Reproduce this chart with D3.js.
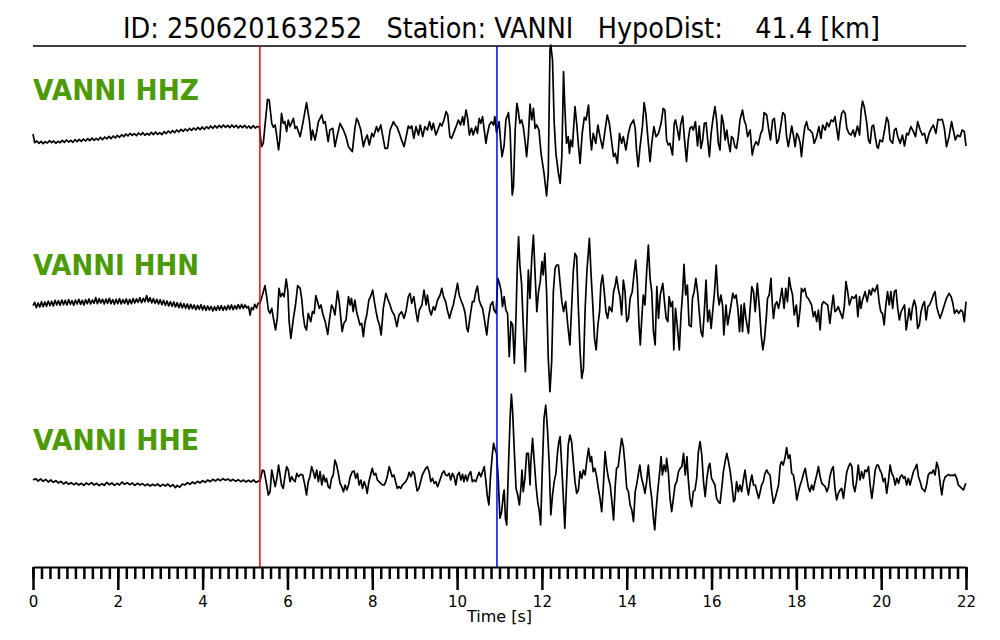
<!DOCTYPE html>
<html><head><meta charset="utf-8">
<script src="https://cdn.jsdelivr.net/npm/d3@7"></script>
<style>html,body{margin:0;padding:0;background:#fff;}svg text{font-family:"DejaVu Sans",sans-serif;}</style>
</head><body>
<svg id="chart" width="1000" height="640"></svg>
<script>
// ---------- data ----------
const eventId = "250620163252";
const station = "VANNI";
const hypoDistKm = 41.4;
const channels = ["HHZ", "HHN", "HHE"];
const pickTimes = [5.35, 10.94];          // P, S
const pickColors = ["#ff0000", "#0000ff"];
const majorTicks = [0, 2, 4, 6, 8, 10, 12, 14, 16, 18, 20, 22];
const minorStep = 0.2;
const timeRange = [0, 22];

// amplitudes in counts (relative), time in s
const hhz = [
[0.00,-12],[0.04,-38],[0.09,-33],[0.14,-40],[0.19,-34],[0.24,-41],[0.29,-35],[0.34,-39],[0.39,-32],[0.44,-38],[0.49,-33],[0.54,-40],[0.59,-34],[0.64,-38],[0.69,-31],[0.74,-37],[0.79,-30],[0.84,-36],[0.89,-31],[0.94,-37],[0.99,-29],[1.04,-35],[1.09,-28],[1.14,-34],[1.19,-27],[1.24,-33],[1.29,-26],[1.34,-32],[1.39,-24],[1.44,-31],[1.49,-25],[1.54,-30],[1.59,-22],[1.64,-29],[1.69,-21],[1.74,-27],[1.79,-19],[1.84,-26],[1.89,-18],[1.94,-24],[1.99,-16],[2.04,-22],[2.09,-14],[2.14,-20],[2.19,-12],[2.24,-18],[2.29,-10],[2.34,-16],[2.39,-11],[2.44,-17],[2.49,-9],[2.54,-15],[2.59,-8],[2.64,-16],[2.69,-10],[2.74,-15],[2.79,-7],[2.84,-14],[2.89,-6],[2.94,-13],[2.99,-8],[3.04,-14],[3.09,-5],[3.14,-11],[3.19,-3],[3.24,-9],[3.29,-2],[3.34,-8],[3.39,0],[3.44,-6],[3.49,2],[3.54,-4],[3.59,3],[3.64,-3],[3.69,5],[3.74,-1],[3.79,6],[3.84,0],[3.89,8],[3.94,1],[3.99,9],[4.04,2],[4.09,10],[4.14,4],[4.19,12],[4.24,5],[4.29,13],[4.34,6],[4.39,14],[4.44,7],[4.49,15],[4.54,8],[4.59,14],[4.64,7],[4.69,15],[4.74,8],[4.79,14],[4.84,6],[4.89,13],[4.94,7],[4.99,14],[5.04,6],[5.09,12],[5.14,5],[5.19,13],[5.24,6],[5.29,11],[5.34,8],
[5.39,-50],[5.43,-40],[5.53,92],[5.57,90],[5.63,20],[5.67,8],[5.71,15],[5.75,-20],[5.79,-60],[5.82,-30],[5.86,50],[5.90,20],[5.94,25],[5.98,-5],[6.02,30],[6.06,10],[6.14,35],[6.18,5],[6.22,10],[6.30,-20],[6.37,25],[6.45,82],[6.52,25],[6.56,-30],[6.59,0],[6.65,-30],[6.69,-5],[6.73,25],[6.81,45],[6.85,20],[6.89,25],[6.96,-35],[7.00,0],[7.07,5],[7.12,-50],[7.16,-25],[7.24,20],[7.32,0],[7.38,-20],[7.44,-50],
[7.53,-65],[7.59,5],[7.63,35],[7.67,25],[7.73,0],[7.79,-50],[7.83,-30],[7.88,-15],[7.93,-45],[7.99,-10],[8.03,-20],[8.10,10],[8.14,-5],[8.20,15],[8.25,-20],[8.30,-55],[8.36,-55],[8.42,0],[8.50,25],[8.54,15],[8.58,10],[8.64,-10],[8.69,-30],[8.75,-50],[8.80,-20],[8.85,12],[8.89,5],[8.93,12],[8.98,-25],[9.03,10],[9.09,-15],[9.13,15],[9.19,-20],[9.24,10],[9.30,0],[9.35,25],[9.40,0],[9.44,20],[9.50,-15],[9.56,5],[9.60,20],[9.64,12],[9.69,30],[9.74,55],[9.78,45],[9.83,-20],[9.87,-25],[9.93,-5],[9.99,15],[10.03,30],[10.08,15],[10.13,40],[10.16,15],[10.21,60],[10.25,35],[10.29,-15],[10.34,5],[10.38,-15],[10.44,10],[10.48,-10],[10.52,35],[10.56,20],[10.60,40],[10.64,0],[10.68,-40],[10.71,-15],[10.76,15],[10.81,25],[10.86,15],[10.89,40],[10.93,-8],[10.99,25],[11.03,-40],[11.06,-80],[11.11,-45],[11.15,30],[11.21,52],[11.25,0],[11.30,-195],[11.33,-170],[11.37,0],[11.41,80],[11.44,60],[11.48,20],[11.52,30],[11.56,10],[11.60,-30],[11.64,-80],[11.68,-20],[11.72,78],[11.76,30],[11.80,65],[11.84,5],[11.88,15],[11.93,0],[11.98,-70],[12.05,-130],[12.11,-198],[12.15,-130],[12.19,240],[12.21,255],[12.25,210],[12.29,20],[12.33,-70],[12.39,-130],[12.43,-160],[12.47,-80],[12.51,175],[12.54,70],[12.58,-40],[12.62,-20],[12.65,-70],[12.68,-30],[12.72,-50],[12.78,70],[12.82,20],[12.86,-45],[12.90,-100],[12.95,-10],[13.00,38],[13.04,30],[13.10,75],[13.14,-20],[13.17,-60],[13.21,-10],[13.27,-40],[13.32,15],[13.37,-20],[13.43,-55],[13.49,0],[13.54,45],[13.59,20],[13.63,-20],[13.69,-80],[13.73,-70],[13.78,-100],[13.83,-10],[13.88,-40],[13.92,-20],[13.98,-60],[14.04,-10],[14.09,15],[14.16,30],[14.20,5],[14.23,-60],[14.27,-110],[14.31,-55],[14.37,10],[14.41,82],[14.45,50],[14.51,-40],[14.55,-95],
[14.59,-40],[14.64,10],[14.69,-20],[14.75,-10],[14.81,20],[14.86,65],[14.90,60],[14.94,-30],[14.98,-45],[15.02,-40],[15.08,-75],[15.12,20],[15.15,30],[15.19,5],[15.24,-30],[15.27,15],[15.32,42],[15.36,-25],[15.41,-95],[15.45,-30],[15.49,5],[15.53,10],[15.57,0],[15.62,25],[15.67,-48],[15.71,12],[15.75,-55],[15.79,-30],[15.83,20],[15.87,22],[15.91,-30],[15.95,-80],[15.99,-10],[16.03,30],[16.08,70],[16.12,30],[16.16,-40],[16.20,-60],[16.24,45],[16.28,20],[16.32,-30],[16.36,0],[16.40,-40],[16.44,-65],[16.47,-20],[16.51,-25],[16.55,-50],[16.59,-55],[16.63,-20],[16.67,30],[16.73,60],[16.77,30],[16.81,15],[16.85,-20],[16.91,0],[16.96,-75],[17.00,-50],[17.05,-35],[17.10,-45],[17.16,-10],[17.20,0],[17.24,52],[17.30,45],[17.35,0],[17.39,-30],[17.44,30],[17.48,35],[17.54,-40],[17.58,-30],[17.63,10],[17.68,52],[17.73,45],[17.77,-20],[17.81,-50],[17.85,-20],[17.89,12],[17.93,-15],[17.97,-50],[18.01,-10],[18.05,-20],[18.09,-40],[18.12,-80],[18.16,-30],[18.20,10],[18.24,25],[18.28,2],[18.32,0],[18.38,-10],[18.42,-40],[18.48,-20],[18.53,10],[18.58,-25],[18.62,15],[18.68,0],[18.72,22],[18.77,10],[18.82,30],[18.87,25],[18.91,40],[18.95,5],[18.99,-30],[19.03,20],[19.07,50],[19.11,58],[19.15,50],[19.19,5],[19.24,-10],[19.29,-15],[19.34,0],[19.38,-20],[19.44,12],[19.49,-15],[19.53,60],[19.56,87],[19.60,70],[19.66,20],[19.70,-30],[19.74,-40],[19.78,10],[19.82,15],[19.86,-20],[19.90,-50],[19.93,-55],[19.97,-30],[20.03,-35],[20.08,0],[20.13,38],[20.17,25],[20.21,-30],[20.27,-40],[20.31,0],[20.35,5],[20.39,-20],[20.45,-40],[20.50,-15],[20.55,-48],[20.60,-10],[20.64,-15],[20.70,10],[20.76,-5],[20.81,-20],[20.86,25],[20.92,0],[20.97,-15],[21.02,-10],[21.07,-40],[21.13,-10],[21.18,5],[21.23,15],[21.29,-10],[21.34,32],[21.39,30],[21.44,32],[21.49,5],[21.54,-50],[21.60,-20],[21.66,25],[21.70,0],[21.75,-30],[21.80,-15],[21.86,-20],[21.91,0],[21.96,-5],[22.00,-48]
];

const hhn = [
[0.00,-2],[0.04,8],[0.08,-8],[0.12,6],[0.16,-6],[0.20,10],[0.24,-5],[0.28,9],[0.32,-4],[0.36,12],[0.40,-2],[0.44,11],[0.48,-3],[0.52,14],[0.56,0],[0.60,13],[0.64,-1],[0.68,15],[0.72,1],[0.76,14],[0.80,0],[0.84,16],[0.88,2],[0.92,13],[0.96,-1],[1.00,15],[1.04,3],[1.08,17],[1.12,2],[1.16,14],[1.20,0],[1.24,16],[1.28,4],[1.32,18],[1.36,3],[1.40,15],[1.44,5],[1.48,22],[1.52,4],[1.56,19],[1.60,6],[1.64,17],[1.68,3],[1.72,18],[1.76,5],[1.80,20],[1.84,4],[1.88,16],[1.92,2],[1.96,17],[2.00,4],[2.04,19],[2.08,3],[2.12,16],[2.16,5],[2.20,18],[2.24,2],[2.28,17],[2.32,4],[2.36,19],[2.40,6],[2.44,18],[2.48,8],[2.52,22],[2.56,7],[2.60,20],[2.64,10],[2.68,28],[2.72,9],[2.76,22],[2.80,6],[2.84,19],[2.88,5],[2.92,17],[2.96,3],[3.00,16],[3.04,1],[3.08,14],[3.12,-1],[3.16,12],[3.20,-3],[3.24,10],[3.28,-4],[3.32,9],[3.36,-6],[3.40,7],[3.44,-8],[3.48,6],[3.52,-9],[3.56,4],[3.60,-10],[3.64,3],[3.68,-12],[3.72,2],[3.76,-11],[3.80,0],[3.84,-14],[3.88,-1],[3.92,-13],[3.96,1],[4.00,-15],[4.04,-2],[4.08,-16],[4.12,-3],[4.16,-15],[4.20,-4],[4.24,-18],[4.28,-5],[4.32,-16],[4.36,-3],[4.40,-15],[4.44,-2],[4.48,-16],[4.52,-4],[4.56,-15],[4.60,-1],[4.64,-13],[4.68,0],[4.72,-14],[4.76,-2],[4.80,-12],[4.84,1],[4.88,-11],[4.92,2],[4.96,-10],[5.00,0],[5.04,-9],[5.08,-4],[5.12,-30],[5.15,-8],[5.19,-14],[5.23,2],[5.27,-9],[5.31,6],[5.35,5],
[5.41,30],[5.47,58],[5.51,25],[5.55,-15],[5.59,-25],[5.63,-10],[5.67,-40],[5.72,-75],[5.76,-40],[5.80,50],[5.84,25],[5.88,35],[5.92,25],[5.97,78],[6.01,40],[6.04,-50],[6.08,-100],[6.14,-40],[6.19,0],[6.24,58],[6.30,50],[6.34,15],[6.37,-30],[6.41,-65],[6.45,-75],[6.49,-25],[6.55,-50],[6.59,-20],[6.63,-25],[6.67,28],[6.71,10],[6.75,-10],[6.79,0],[6.83,-25],[6.89,-50],[6.95,-88],[6.99,-45],[7.04,0],[7.08,-10],[7.12,-30],[7.18,42],[7.22,10],
[7.29,-80],[7.33,-55],[7.38,-45],[7.44,25],[7.48,0],[7.51,20],[7.55,-20],[7.59,15],[7.63,-20],[7.67,-40],[7.71,-60],[7.75,-55],[7.79,-95],[7.83,-50],[7.87,-30],[7.92,15],[7.96,25],[8.01,45],[8.05,10],[8.09,-20],[8.13,-45],[8.17,-60],[8.21,-90],[8.26,-10],[8.32,35],[8.36,20],[8.42,0],[8.47,-20],[8.52,-30],[8.58,-65],[8.63,-30],[8.69,-20],[8.75,-40],[8.80,-15],[8.85,25],[8.89,35],[8.93,5],[8.98,25],[9.03,-20],[9.07,-50],[9.11,-15],[9.17,0],[9.22,45],[9.27,0],[9.30,30],[9.35,-15],[9.39,-30],[9.44,-5],[9.48,-15],[9.54,15],[9.60,30],[9.64,50],[9.68,25],[9.73,10],[9.77,-15],[9.82,-40],[9.86,-20],[9.91,0],[9.95,25],[10.01,65],[10.05,30],[10.09,15],[10.15,-5],[10.19,-25],[10.23,-70],[10.26,-80],[10.30,-40],[10.36,10],[10.40,10],[10.44,40],[10.48,57],[10.52,15],[10.56,0],[10.60,-10],[10.64,-40],[10.70,-90],[10.74,-40],[10.79,0],[10.84,10],[10.87,-15],[10.92,-25],[10.96,80],[11.00,65],[11.04,40],[11.07,-5],[11.11,25],[11.15,-15],[11.19,-25],[11.23,-155],[11.27,-50],[11.31,-60],[11.35,-175],[11.39,-30],[11.42,120],[11.45,205],[11.48,120],[11.52,65],[11.56,-60],[11.61,-200],[11.64,-80],[11.68,105],[11.72,20],[11.76,140],[11.80,210],[11.84,90],[11.88,-20],[11.92,40],[11.96,70],[12.00,130],[12.03,90],[12.07,155],[12.11,40],[12.15,-160],[12.19,-260],[12.23,-170],[12.27,40],[12.31,110],[12.35,120],[12.39,120],[12.43,65],[12.47,10],[12.51,-20],[12.56,10],[12.61,-60],[12.66,-120],[12.70,-10],[12.74,100],[12.78,155],[12.82,145],[12.86,-10],[12.90,-140],[12.94,-220],[12.98,-190],[13.02,-10],[13.06,100],[13.12,200],[13.16,90],[13.20,0],[13.24,-100],[13.28,-135],[13.32,-60],[13.36,-20],[13.39,60],[13.43,90],[13.47,40],[13.51,-20],[13.55,-40],[13.59,-5],[13.65,-20],[13.69,40],[13.73,60],[13.76,85],[13.80,50],[13.84,25],[13.88,-30],[13.92,75],[13.96,40],[14.00,-50],[14.04,-40],[14.08,20],[14.13,40],[14.17,90],[14.21,135],[14.25,70],[14.29,-60],[14.32,-120],[14.35,-50],[14.39,30],[14.43,0],[14.47,100],[14.51,180],[14.55,80],
[14.59,40],[14.63,-80],[14.67,-120],[14.71,55],[14.75,-40],[14.79,30],[14.85,65],[14.89,10],[14.93,-40],[14.97,-50],[15.00,25],[15.04,-5],[15.08,10],[15.11,-135],[15.15,-10],[15.19,-60],[15.24,-135],[15.28,-30],[15.32,40],[15.35,122],[15.39,30],[15.43,60],[15.47,-60],[15.52,-65],[15.55,20],[15.59,40],[15.63,80],[15.67,40],[15.71,-20],[15.75,-80],[15.79,-95],[15.83,-20],[15.87,75],[15.91,-50],[15.95,-15],[15.99,-70],[16.03,-15],[16.07,40],[16.11,120],[16.15,30],[16.18,0],[16.22,30],[16.26,0],[16.29,-90],[16.34,0],[16.38,-60],[16.42,-30],[16.46,0],[16.50,35],[16.54,20],[16.58,30],[16.62,-10],[16.66,-80],[16.70,0],[16.73,-80],[16.77,5],[16.81,-40],[16.87,-85],[16.91,-10],[16.95,55],[16.99,40],[17.03,-20],[17.08,65],[17.13,-10],[17.17,-90],[17.21,-135],[17.25,-100],[17.29,-40],[17.32,20],[17.36,30],[17.40,80],[17.43,10],[17.46,-40],[17.50,0],[17.54,10],[17.58,-10],[17.61,10],[17.66,50],[17.71,-10],[17.75,50],[17.79,10],[17.83,82],[17.87,50],[17.91,30],[17.95,-30],[18.00,0],[18.04,-65],[18.09,-10],[18.12,50],[18.16,40],[18.20,50],[18.24,25],[18.28,20],[18.32,10],[18.36,0],[18.40,-35],[18.44,-20],[18.48,-50],[18.52,-15],[18.56,-75],[18.60,0],[18.64,10],[18.69,5],[18.74,0],[18.79,-55],[18.83,-10],[18.87,30],[18.91,-20],[18.95,-15],[18.99,-5],[19.03,-20],[19.09,-40],[19.13,-5],[19.17,70],[19.21,40],[19.25,0],[19.31,25],[19.36,20],[19.41,30],[19.45,-35],[19.49,25],[19.52,-10],[19.56,15],[19.62,40],[19.67,10],[19.72,45],[19.76,30],[19.80,50],[19.85,40],[19.91,60],[19.95,10],[19.99,-20],[20.03,-25],[20.07,-60],[20.11,0],[20.15,40],[20.19,0],[20.23,40],[20.27,-10],[20.31,40],[20.35,45],[20.39,-10],[20.43,-45],[20.47,-20],[20.51,-10],[20.55,0],[20.59,-75],[20.63,-40],[20.66,-10],[20.70,-45],[20.74,-5],[20.78,15],[20.82,-5],[20.86,-70],[20.90,-60],[20.94,-20],[20.98,0],[21.02,10],[21.06,-45],[21.10,-5],[21.14,0],[21.19,15],[21.23,30],[21.27,40],[21.31,-5],[21.35,-25],[21.39,-40],[21.44,-20],[21.49,0],[21.54,20],[21.60,35],[21.65,25],[21.69,5],[21.73,-25],[21.78,-15],[21.83,-25],[21.88,-15],[21.92,-20],[21.96,-50],[22.00,10]
];

const hhe = [
[0.00,0],[0.06,4],[0.12,-3],[0.18,3],[0.24,-4],[0.30,2],[0.36,-6],[0.42,0],[0.48,-7],[0.54,-2],[0.60,-9],[0.66,-4],[0.72,-12],[0.78,-6],[0.84,-13],[0.90,-8],[0.96,-14],[1.02,-9],[1.08,-15],[1.14,-10],[1.20,-16],[1.26,-9],[1.32,-14],[1.38,-8],[1.44,-15],[1.50,-10],[1.56,-17],[1.62,-11],[1.68,-16],[1.74,-7],[1.80,-14],[1.86,-9],[1.92,-16],[1.98,-10],[2.04,-15],[2.10,-6],[2.16,-13],[2.22,-8],[2.28,-14],[2.34,-9],[2.40,-16],[2.46,-10],[2.52,-15],[2.58,-11],[2.64,-17],[2.70,-12],[2.76,-18],[2.82,-13],[2.88,-17],[2.94,-12],[3.00,-19],[3.06,-13],[3.12,-18],[3.18,-12],[3.24,-20],[3.30,-14],[3.36,-23],[3.40,-16],[3.46,-22],[3.52,-12],[3.58,-15],[3.64,-8],[3.70,-13],[3.76,-6],[3.82,-11],[3.88,-4],[3.94,-9],[4.00,-2],[4.06,-7],[4.12,0],[4.18,-5],[4.24,2],[4.30,-3],[4.36,3],[4.42,-2],[4.48,4],[4.54,-1],[4.60,3],[4.66,-3],[4.72,2],[4.78,-4],[4.84,1],[4.90,-5],[4.96,0],[5.02,-6],[5.08,-1],[5.14,-6],[5.20,0],[5.26,-7],[5.32,-3],
[5.35,-5],[5.41,30],[5.45,27],[5.51,-15],[5.55,-45],[5.59,-35],[5.63,30],[5.67,5],[5.71,-20],[5.75,5],[5.79,45],[5.82,20],[5.86,-15],[5.90,-25],[5.94,10],[5.98,40],[6.02,30],[6.06,-5],[6.10,10],[6.14,0],[6.18,-5],[6.22,20],[6.26,10],[6.31,17],[6.36,15],[6.41,-15],[6.45,-45],[6.49,-5],[6.53,10],[6.57,40],[6.61,25],[6.65,5],[6.69,30],[6.73,-5],[6.77,25],[6.81,-15],[6.85,15],[6.89,-5],[6.92,5],[6.96,-20],[7.00,-25],[7.04,5],[7.08,15],[7.12,60],[7.16,45],[7.20,20],[7.24,-10],
[7.28,-20],[7.32,-35],[7.36,-15],[7.40,-30],[7.44,-15],[7.48,10],[7.53,25],[7.57,27],[7.61,5],[7.65,20],[7.69,-15],[7.73,0],[7.77,-25],[7.81,-5],[7.85,-20],[7.88,-40],[7.92,-5],[7.96,15],[8.00,35],[8.04,15],[8.08,20],[8.12,0],[8.16,-5],[8.20,-10],[8.24,-15],[8.28,-15],[8.32,-5],[8.36,15],[8.40,40],[8.43,27],[8.47,10],[8.51,15],[8.55,-5],[8.59,-25],[8.63,-20],[8.67,-25],[8.71,-15],[8.75,-10],[8.79,-5],[8.83,5],[8.87,23],[8.91,10],[8.95,25],[8.99,20],[9.02,-5],[9.06,-33],[9.10,-25],[9.14,-5],[9.18,15],[9.22,25],[9.26,35],[9.30,40],[9.34,25],[9.38,-5],[9.42,5],[9.46,-10],[9.50,-5],[9.54,-20],[9.57,-10],[9.61,5],[9.65,20],[9.69,27],[9.73,15],[9.77,13],[9.81,20],[9.85,0],[9.89,20],[9.93,10],[9.97,-15],[10.01,15],[10.05,23],[10.09,0],[10.13,17],[10.16,-5],[10.20,15],[10.24,-3],[10.28,17],[10.32,25],[10.36,-5],[10.40,0],[10.44,-5],[10.48,10],[10.52,23],[10.56,10],[10.60,25],[10.64,40],[10.68,-5],[10.71,-45],[10.75,-75],[10.79,15],[10.83,75],[10.86,110],[10.90,90],[10.93,80],[10.97,5],[11.01,-115],[11.05,-95],[11.09,-45],[11.11,-30],[11.14,-115],[11.17,-135],[11.21,35],[11.25,185],[11.28,257],[11.31,205],[11.35,85],[11.39,-25],[11.43,-45],[11.47,-75],[11.51,-15],[11.53,30],[11.56,-35],[11.60,5],[11.64,80],[11.68,80],[11.72,-15],[11.74,55],[11.78,125],[11.82,55],[11.86,-15],[11.90,-65],[11.94,-95],[11.97,-135],[12.01,35],[12.05,185],[12.09,225],[12.13,155],[12.17,55],[12.21,-105],[12.25,-45],[12.29,-5],[12.33,20],[12.37,85],[12.40,115],[12.43,130],[12.47,35],[12.51,-65],[12.54,-145],[12.58,-15],[12.62,105],[12.66,135],[12.70,115],[12.74,55],[12.78,-5],[12.82,-40],[12.86,-30],[12.90,25],[12.94,5],[12.98,30],[13.02,15],[13.06,60],[13.10,95],[13.14,55],[13.17,70],[13.21,25],[13.25,35],[13.29,10],[13.33,-25],[13.37,-55],[13.41,-95],[13.45,-15],[13.49,85],[13.53,35],[13.57,5],[13.61,-15],[13.65,-65],[13.69,-120],[13.73,-15],[13.76,35],[13.80,40],[13.84,85],[13.88,125],[13.92,100],[13.96,45],[14.00,-25],[14.04,-35],[14.08,-75],[14.12,-90],[14.16,-125],[14.20,-35],[14.24,-10],[14.27,15],[14.31,45],[14.35,5],[14.39,-15],[14.43,-40],[14.47,-5],[14.51,45],
[14.55,-15],[14.59,-55],[14.63,-115],[14.66,-150],[14.69,-95],[14.73,-35],[14.77,15],[14.81,70],[14.84,15],[14.88,45],[14.92,25],[14.94,65],[14.98,25],[15.02,-55],[15.06,-95],[15.10,-55],[15.14,-15],[15.18,-5],[15.22,25],[15.26,35],[15.30,40],[15.34,80],[15.38,15],[15.42,70],[15.45,5],[15.49,-55],[15.53,-80],[15.57,-35],[15.61,-30],[15.65,5],[15.69,85],[15.73,115],[15.77,75],[15.81,-5],[15.85,-50],[15.89,5],[15.93,40],[15.96,50],[16.00,5],[16.04,-5],[16.08,-15],[16.12,-55],[16.16,-65],[16.20,-70],[16.24,-25],[16.28,25],[16.32,55],[16.36,80],[16.40,55],[16.44,25],[16.48,-15],[16.52,-65],[16.55,-60],[16.59,-5],[16.63,-35],[16.67,-15],[16.71,-35],[16.75,0],[16.79,30],[16.83,-15],[16.87,-45],[16.91,-10],[16.95,15],[16.99,-15],[17.03,-15],[17.07,-35],[17.11,-55],[17.14,-40],[17.18,-15],[17.22,-5],[17.26,20],[17.30,30],[17.34,20],[17.38,15],[17.42,-35],[17.46,-70],[17.50,-55],[17.54,-35],[17.58,-15],[17.62,45],[17.65,55],[17.69,45],[17.73,65],[17.77,97],[17.81,65],[17.85,75],[17.89,20],[17.93,15],[17.97,-15],[18.01,-60],[18.05,-35],[18.09,-15],[18.13,0],[18.17,20],[18.21,35],[18.24,10],[18.28,-20],[18.32,-35],[18.36,-15],[18.40,-30],[18.44,-5],[18.48,15],[18.52,40],[18.56,10],[18.60,-10],[18.64,-15],[18.68,-20],[18.72,-35],[18.76,-20],[18.79,10],[18.83,30],[18.87,40],[18.91,-25],[18.95,-60],[18.99,-40],[19.03,-30],[19.07,-25],[19.11,-55],[19.15,-15],[19.19,25],[19.23,40],[19.27,50],[19.31,40],[19.34,-15],[19.38,-35],[19.42,-5],[19.46,45],[19.50,0],[19.54,25],[19.58,5],[19.62,30],[19.66,25],[19.70,40],[19.74,-15],[19.78,-55],[19.82,-15],[19.86,30],[19.90,45],[19.93,45],[19.97,30],[20.01,20],[20.05,-5],[20.09,5],[20.13,-40],[20.17,-5],[20.21,45],[20.25,20],[20.29,10],[20.33,-15],[20.37,5],[20.41,-10],[20.45,10],[20.49,15],[20.53,5],[20.56,10],[20.60,-15],[20.64,5],[20.68,-15],[20.72,5],[20.76,25],[20.80,35],[20.84,47],[20.88,10],[20.92,-5],[20.96,-25],[21.00,-30],[21.03,-35],[21.07,-15],[21.11,15],[21.15,23],[21.19,20],[21.23,30],[21.27,15],[21.31,53],[21.35,35],[21.39,-10],[21.43,-45],[21.47,-5],[21.51,10],[21.55,13],[21.59,17],[21.63,13],[21.67,15],[21.70,13],[21.74,17],[21.78,5],[21.82,-15],[21.86,-20],[21.90,-25],[21.94,-30],[21.98,-15],[22.00,-10]
];
const traces = [hhz, hhn, hhe];

// ---------- drawing ----------
(function () {
const svg = d3.select("#chart");
const leftX = 33, rightX = 966, topY = 46, axisY = 567;

const x = d3.scaleLinear().domain(timeRange).range([leftX, rightX]);
const yCenter = d3.scalePoint().domain(channels).range([130, 480]);
const amp = d3.scaleLinear().domain([-300, 300]).range([100, -100]);

// title
svg.append("text")
  .attr("x", (leftX + rightX) / 2 + 2).attr("y", 38)
  .attr("text-anchor", "middle")
  .attr("font-size", 29)
  .attr("textLength", 757).attr("lengthAdjust", "spacingAndGlyphs")
  .style("white-space", "pre")
  .text(`ID: ${eventId}   Station: ${station}   HypoDist:    ${hypoDistKm.toFixed(1)} [km]`);

// top rule
svg.append("line").attr("x1", leftX).attr("x2", rightX).attr("y1", topY).attr("y2", topY)
  .attr("stroke", "#000").attr("stroke-width", 1.5);

// traces
const line = d3.line().x(d => x(d[0]));
channels.forEach((ch, i) => {
  const c = yCenter(ch);
  svg.append("path")
    .datum(traces[i])
    .attr("fill", "none").attr("stroke", "#000").attr("stroke-width", 1.7)
    .attr("stroke-linejoin", "round")
    .attr("d", line.y(d => c + amp(d[1])));
  svg.append("text")
    .attr("x", leftX).attr("y", c - 30)
    .attr("font-size", 29).attr("font-weight", "bold")
    .attr("fill", "#4c9a06")
    .attr("textLength", 166).attr("lengthAdjust", "spacingAndGlyphs")
    .text(`${station} ${ch}`);
});

// picks
pickTimes.forEach((t, i) => {
  svg.append("line")
    .attr("x1", x(t)).attr("x2", x(t)).attr("y1", topY).attr("y2", axisY)
    .attr("stroke", pickColors[i]).attr("stroke-width", 1.5);
});

// axis
const minorTicks = d3.range(timeRange[0], timeRange[1] + 1e-9, minorStep);
const gMinor = svg.append("g").attr("transform", `translate(0,${axisY})`)
  .call(d3.axisBottom(x).tickValues(minorTicks).tickSize(12).tickSizeOuter(0).tickFormat(""));
gMinor.selectAll(".tick line").attr("stroke-width", 2.5);
gMinor.select(".domain").attr("stroke-width", 2);
const gMajor = svg.append("g").attr("transform", `translate(0,${axisY})`)
  .call(d3.axisBottom(x).tickValues(majorTicks).tickSize(23).tickPadding(6).tickSizeOuter(0).tickFormat(d3.format("d")));
gMajor.select(".domain").remove();
gMajor.selectAll(".tick line").attr("stroke-width", 2.5);
gMajor.selectAll(".tick text").attr("font-size", 15).attr("font-family", "DejaVu Sans").attr("fill", "#000");

svg.append("text")
  .attr("x", (leftX + rightX) / 2).attr("y", 622)
  .attr("text-anchor", "middle").attr("font-size", 16)
  .text("Time [s]");
})();
</script>
</body></html>
